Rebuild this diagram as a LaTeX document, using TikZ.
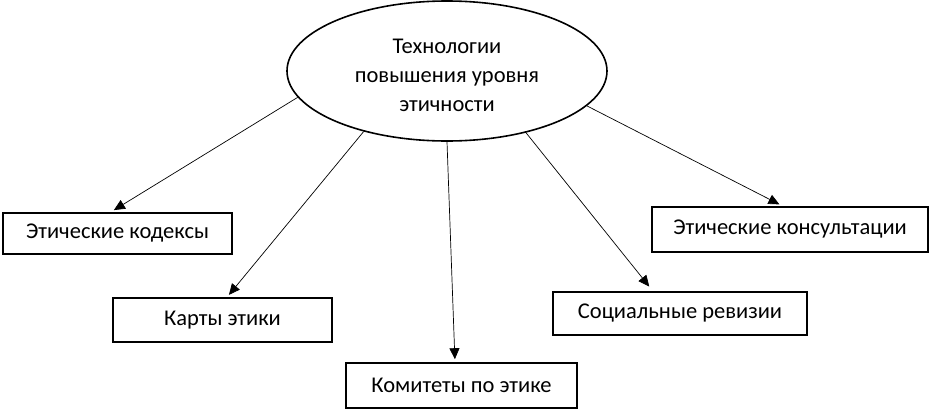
\documentclass[tikz,border=0pt]{standalone}
\usepackage{fontspec}
\setmainfont{Carlito}
\usetikzlibrary{arrows.meta, shapes.geometric}

\begin{document}
\begin{tikzpicture}[x=1pt, y=-1pt, font=\fontsize{22.5}{29}\selectfont,
  box/.style={draw, line width=1.6pt, inner sep=0pt},
  arr/.style={line width=0.7pt, -{Triangle[length=11pt, width=10pt]}}]
\useasboundingbox (0,0) rectangle (930,410);
\node [ellipse, draw, line width=1.6pt, minimum width=320pt, minimum height=140pt, inner sep=0pt] (tech) at (447,71) {\raisebox{-6pt}[\height][\depth]{\begin{tabular}{@{}c@{}}Технологии\\повышения уровня\\этичности\end{tabular}}};
\node [box, minimum width=229pt, minimum height=41pt] (codes) at (117.5,233.5) {Этические кодексы};
\node [box, minimum width=219pt, minimum height=44pt] (maps) at (222.5,320) {Карты этики};
\node [box, minimum width=231pt, minimum height=45pt] (comm) at (461.5,385.5) {Комитеты по этике};
\node [box, minimum width=254pt, minimum height=43pt] (audit) at (680,313.5) {Социальные ревизии};
\node [box, minimum width=276pt, minimum height=45pt] (consult) at (790,229.5) {Этические консультации};
\draw [arr, shorten >=4pt] (tech.190) -- ([xshift=-7pt]codes.north);
\draw [arr, shorten >=3pt] (tech.216) -- ([xshift=4.5pt]maps.north);
\draw [arr, shorten >=3pt] (tech.270) -- ([xshift=-6.5pt]comm.north);
\draw [arr, shorten >=6pt] (tech.322) -- ([xshift=-27pt]audit.north);
\draw [arr, shorten >=4pt] (tech.346) -- ([xshift=-7pt]consult.north);
\end{tikzpicture}
\end{document}
